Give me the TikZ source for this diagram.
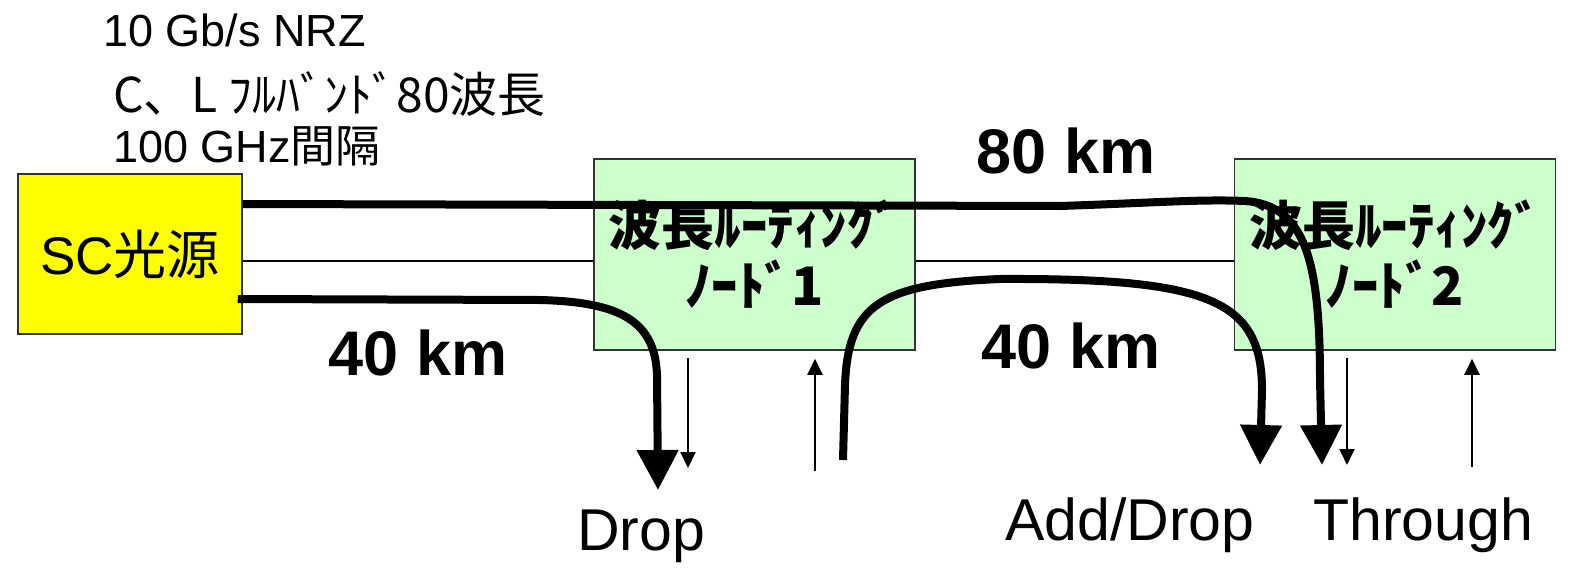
\documentclass[tikz,border=0pt]{standalone}
\usepackage{fontspec}
\setmainfont{Liberation Sans}
\newfontfamily\cjk{Noto Sans CJK JP}
\usetikzlibrary{arrows.meta,calc}
\definecolor{scyellow}{HTML}{FFFF00}
\definecolor{nodegreen}{HTML}{CCFFCC}
\definecolor{boxline}{HTML}{333333}
\begin{document}
\begin{tikzpicture}[x=1pt,y=-1pt,
  srcbox/.style={draw=boxline,line width=1.5pt,fill=scyellow,minimum width=224pt,minimum height=160pt,inner sep=0pt,font=\fontsize{53}{60}\selectfont},
  rnode/.style={draw=boxline,line width=1.5pt,fill=nodegreen,minimum width=321pt,minimum height=191pt,inner sep=0pt,align=center,font=\cjk\bfseries\fontsize{53}{60}\selectfont},
  spec/.style={anchor=base west,inner sep=0pt,font=\fontsize{45}{54}\selectfont},
  dist/.style={inner sep=0pt,font=\bfseries\fontsize{63}{72}\selectfont},
  port/.style={anchor=base west,inner sep=0pt,font=\fontsize{59}{66}\selectfont},
  fiber/.style={line width=8pt},
  fiberarrow/.style={line width=8pt,-{Triangle[width=40pt,length=40pt]}},
  link/.style={line width=2pt},
  portarrow/.style={line width=2pt,-{Triangle[width=15pt,length=16pt]}}
]
\useasboundingbox (0,0) rectangle (1571,573);

% spec texts
\node[spec] (s1) at (103,46) {10 Gb/s NRZ};
\node[spec,font=\fontsize{48}{54}\selectfont] (s2) at (113,112) {\cjk C、L ﾌﾙﾊﾞﾝﾄﾞ80波長};
\node[spec] (s3) at (113,162) {100 GHz{\cjk 間隔}};

% boxes
\node[srcbox] (sc) at (130,254) {SC{\cjk 光源}};
\node[rnode] (n1) at (754.5,254.5) {波長ﾙｰﾃｨﾝｸﾞ\\ﾉｰﾄﾞ1};
\node[rnode] (n2) at (1395,254.5) {波長ﾙｰﾃｨﾝｸﾞ\\ﾉｰﾄﾞ2};

% distance labels
\node[dist] (k1) at (418,353) {40 km};
\node[dist] (k2) at (1066,151) {80 km};
\node[dist] (k3) at (1071,346) {40 km};

% port labels
\node[port] (drop) at (577,550) {Drop};
\node[port] (adddrop) at (1005,540) {Add/Drop};
\node[port] (through) at (1313,540) {Through};

% thin links
\draw[link] (sc.east |- 0,261) -- (n1.west |- 0,261);
\draw[link] (n1.east |- 0,261) -- (n2.west |- 0,261);

% thin port arrows
\coordinate (d1) at (688,468);
\coordinate (u1) at (815,471);
\coordinate (d2) at (1347,465);
\coordinate (u2) at (1472,467);
\draw[portarrow] ($(n1.south -| d1)+(0,7)$) -- (d1);
\draw[portarrow] (u1) -- ($(n1.south -| u1)+(0,8)$);
\draw[portarrow] ($(n2.south -| d2)+(0,7)$) -- (d2);
\draw[portarrow] (u2) -- ($(n2.south -| u2)+(0,8)$);

% thick fiber paths
\coordinate (thru) at (1322,465);
\coordinate (dropend) at (658,490);
\coordinate (addstart) at (843,460);
\coordinate (addend) at (1260,465);
\draw[fiberarrow] (sc.east |- 0,204) -- (1060,206) .. controls (1150,203) and (1200,199) .. (1245,201) .. controls (1305,205) and (1320,260) .. (1320,380) -- (thru);
\draw[fiberarrow] ([xshift=-5pt]sc.east |- 0,299) -- (540,300) .. controls (622,302) and (655,322) .. (657,375) -- (dropend);
\draw[fiberarrow] (addstart) -- (845,385) .. controls (848,305) and (880,284) .. (1000,279) .. controls (1210,278) and (1262,300) .. (1262,390) -- (addend);
\end{tikzpicture}
\end{document}
